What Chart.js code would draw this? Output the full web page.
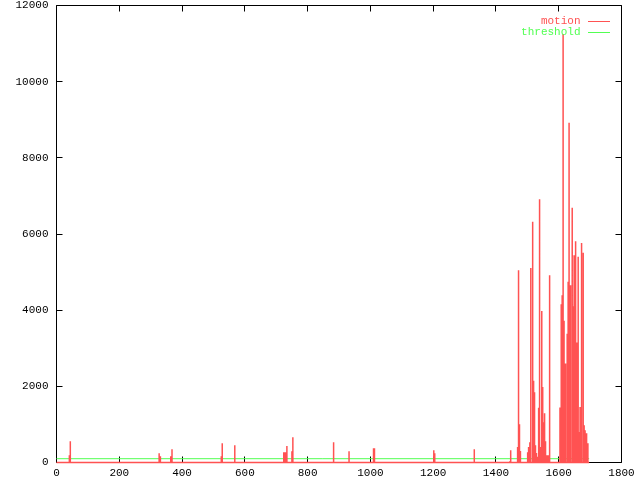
<!DOCTYPE html>
<html><head><meta charset="utf-8">
<script src="https://cdn.jsdelivr.net/npm/chart.js@4/dist/chart.umd.min.js"></script>
<style>html,body{margin:0;padding:0;background:#fff;}#wrap{width:640px;height:480px;}</style>
</head><body><div id="wrap"><canvas id="c" width="640" height="480"></canvas></div>
<script>
// ---- data ----
const xTicks = [0, 200, 400, 600, 800, 1000, 1200, 1400, 1600, 1800];
const yTicks = [0, 2000, 4000, 6000, 8000, 10000, 12000];
const motionStart = 0;
const motionEnd = 1697;
const spikeX = [41, 44, 327, 331, 364, 368, 525, 528, 568, 724, 727, 730, 734, 750, 753, 881, 884, 932, 1010, 1013,
  1202, 1205, 1331, 1444, 1447, 1469, 1472, 1475, 1478, 1501, 1504, 1508, 1511, 1517, 1520, 1523, 1526, 1529, 1532,
  1536, 1539, 1542, 1546, 1549, 1552, 1555, 1558, 1561, 1564, 1567, 1571,
  1604, 1608, 1611, 1614, 1617, 1620, 1623, 1627, 1630, 1633, 1636, 1639, 1643, 1646, 1649, 1652, 1655, 1658, 1662,
  1665, 1668, 1671, 1674, 1678, 1681, 1684, 1687, 1690, 1693];
const spikeY = [190, 560, 245, 165, 165, 350, 165, 505, 455, 270, 270, 270, 430, 295, 665, 295, 530, 295, 375, 375,
  320, 245, 345, 30, 320, 410, 5050, 1005, 300, 270, 410, 530, 5110, 6320, 2145, 1845, 450, 250, 150,
  1435, 6915, 410, 3975, 1985, 1060, 1290, 560, 190, 190, 190, 4920,
  1445, 4155, 4390, 11250, 3720, 1770, 2600, 3380, 4745, 8920, 4655, 1400, 6690, 4100, 5445, 5810, 3250, 3150, 5400,
  800, 1460, 5765, 1430, 5505, 980, 850, 770, 190, 505];
const thresholdValue = 100;
const thresholdStart = 0;
const thresholdEnd = 1697;

const RED = 'rgb(255,82,82)';
const GREEN = 'rgb(82,255,82)';
const FONT = { family: "'Liberation Mono', 'DejaVu Sans Mono', monospace", size: 11 };

// impulses: each sample drawn as a vertical stroke from 0
const motionPts = [{ x: motionStart, y: 0 }];
spikeX.forEach((x, i) => {
  motionPts.push({ x: x, y: 0 }, { x: x, y: spikeY[i] }, { x: x, y: 0 });
});
motionPts.push({ x: motionEnd, y: 0 });
const thresholdPts = [{ x: thresholdStart, y: thresholdValue }, { x: thresholdEnd, y: thresholdValue }];

const framePlugin = {
  id: 'frame',
  beforeDatasetsDraw(chart) {
    const { ctx, chartArea: a, scales } = chart;
    ctx.save();
    ctx.strokeStyle = '#000';
    ctx.lineWidth = 1;
    ctx.beginPath();
    ctx.rect(a.left, a.top, a.right - a.left, a.bottom - a.top);
    ctx.stroke();
    ctx.beginPath();
    xTicks.forEach(v => {
      const p = Math.floor(scales.x.getPixelForValue(v)) + 0.5;
      ctx.moveTo(p, a.bottom); ctx.lineTo(p, a.bottom - 6);
      ctx.moveTo(p, a.top); ctx.lineTo(p, a.top + 6);
    });
    yTicks.forEach(v => {
      const p = Math.floor(scales.y.getPixelForValue(v)) + 0.5;
      ctx.moveTo(a.left, p); ctx.lineTo(a.left + 6, p);
      ctx.moveTo(a.right, p); ctx.lineTo(a.right - 6, p);
    });
    ctx.stroke();
    ctx.restore();
  },
  afterDatasetsDraw(chart) {
    const { ctx, chartArea: a } = chart;
    ctx.save();
    ctx.font = FONT.size + 'px ' + FONT.family;
    ctx.textAlign = 'right';
    ctx.textBaseline = 'middle';
    chart.data.datasets.forEach((ds, i) => {
      const y = Math.floor(a.top + 16 + i * 11) + 0.5;
      ctx.fillStyle = ds.borderColor;
      ctx.fillText(ds.label, a.right - 41, y);
      ctx.strokeStyle = ds.borderColor;
      ctx.lineWidth = 1;
      ctx.beginPath();
      ctx.moveTo(a.right - 33.5, y);
      ctx.lineTo(a.right - 11.5, y);
      ctx.stroke();
    });
    ctx.restore();
  }
};

new Chart(document.getElementById('c'), {
  type: 'line',
  data: {
    datasets: [
      { label: 'motion', data: motionPts, borderColor: RED, backgroundColor: RED, borderWidth: 1.5,
        pointRadius: 0, tension: 0, fill: false, clip: false, borderJoinStyle: 'miter' },
      { label: 'threshold', data: thresholdPts, borderColor: GREEN, backgroundColor: GREEN, borderWidth: 1,
        pointRadius: 0, tension: 0, fill: false, clip: false }
    ]
  },
  options: {
    responsive: false,
    animation: false,
    devicePixelRatio: 1,
    layout: { padding: { top: 5.5, right: 18.5, left: 0, bottom: 0 } },
    plugins: { legend: { display: false }, tooltip: { enabled: false } },
    scales: {
      x: {
        type: 'linear', min: 0, max: 1800,
        afterBuildTicks: s => { s.ticks = xTicks.map(v => ({ value: v })); },
        afterFit: s => { s.height = 17.5; s.paddingLeft = 0; s.paddingRight = 0; },
        grid: { display: false, drawTicks: false },
        border: { display: false },
        ticks: { font: FONT, color: '#000', padding: 4, maxRotation: 0, autoSkip: false, callback: v => String(v) }
      },
      y: {
        type: 'linear', min: 0, max: 12000,
        afterBuildTicks: s => { s.ticks = yTicks.map(v => ({ value: v })); },
        afterFit: s => { s.width = 56.5; s.paddingTop = 0; s.paddingBottom = 0; },
        grid: { display: false, drawTicks: false },
        border: { display: false },
        ticks: { font: FONT, color: '#000', padding: 8, autoSkip: false, callback: v => String(v) }
      }
    }
  },
  plugins: [framePlugin]
});
</script>
</body></html>
